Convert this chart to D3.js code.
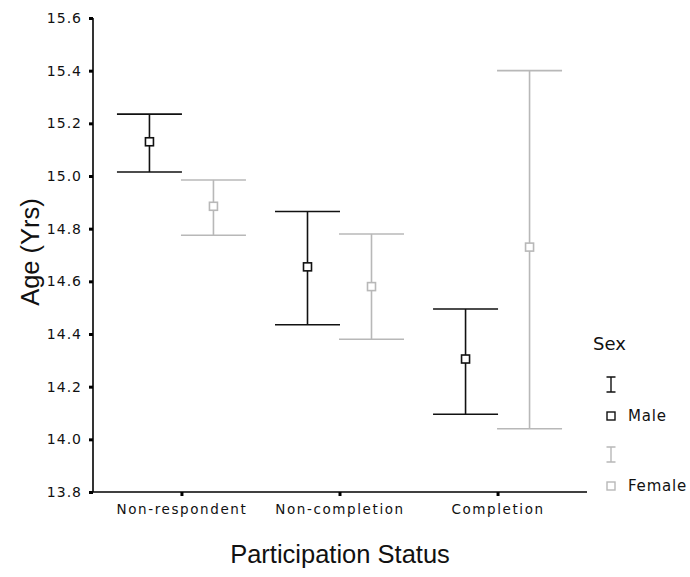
<!DOCTYPE html>
<html>
<head>
<meta charset="utf-8">
<script src="https://cdn.jsdelivr.net/npm/d3@7"></script>
<style>
  body { margin: 0; background: #fff; }
  #chart { width: 690px; height: 577px; }
</style>
</head>
<body>
<div id="chart"></div>
<script>
// values
var categories = ["Non-respondent", "Non-completion", "Completion"];
var sexes = ["Male", "Female"];
var maleMean = [15.13, 14.655, 14.305];
var maleLow = [15.015, 14.435, 14.095];
var maleHigh = [15.235, 14.865, 14.495];
var femaleMean = [14.885, 14.58, 14.73];
var femaleLow = [14.775, 14.38, 14.04];
var femaleHigh = [14.985, 14.78, 15.40];
var yTicks = [13.8, 14.0, 14.2, 14.4, 14.6, 14.8, 15.0, 15.2, 15.4, 15.6];

var colors = { Male: "#111", Female: "#b8b8b8" };

var w = 690, h = 577;
var svg = d3.select("#chart").append("svg").attr("width", w).attr("height", h);

var x = d3.scalePoint()
    .domain(categories)
    .range([92, 587])
    .padding(0.566);

var xSub = d3.scalePoint()
    .domain(sexes)
    .range([-32, 32]);

var y = d3.scaleLinear()
    .domain([13.8, 15.6])
    .range([492, 18]);

var rows = [];
categories.forEach(function(c, i) {
  rows.push({cat: c, sex: "Male", mean: maleMean[i], lo: maleLow[i], hi: maleHigh[i]});
  rows.push({cat: c, sex: "Female", mean: femaleMean[i], lo: femaleLow[i], hi: femaleHigh[i]});
});

// axes
var yAxis = svg.append("g")
    .attr("transform", "translate(93,0)")
    .call(d3.axisLeft(y).tickValues(yTicks).tickFormat(d3.format(".1f")).tickSizeInner(4).tickSizeOuter(0).tickPadding(7));

var xAxis = svg.append("g")
    .attr("transform", "translate(0,492)")
    .call(d3.axisBottom(x).tickSizeInner(4).tickSizeOuter(0).tickPadding(8));

[yAxis, xAxis].forEach(function(a) {
  a.select(".domain").attr("stroke", "#000").attr("stroke-width", 1.6);
  a.selectAll(".tick line").attr("stroke", "#000").attr("stroke-width", 3);
});
xAxis.select(".domain").attr("d", "M92,0H587");
yAxis.select(".domain").attr("d", "M0,18V492");

yAxis.selectAll(".tick text")
    .attr("font-family", "DejaVu Sans")
    .attr("font-size", "14px")
    .attr("letter-spacing", "1px")
    .attr("fill", "#111");
xAxis.selectAll(".tick text")
    .attr("font-family", "DejaVu Sans")
    .attr("font-size", "13.5px")
    .attr("letter-spacing", "1.6px")
    .attr("fill", "#111");

// error bars
var cap = 32.5;
var bars = svg.selectAll(".bar")
    .data(rows)
    .enter().append("g")
    .attr("class", "bar")
    .attr("stroke", function(d) { return colors[d.sex]; })
    .attr("stroke-width", 1.6)
    .attr("fill", "none");

bars.append("line")
    .attr("x1", function(d) { return x(d.cat) + xSub(d.sex); })
    .attr("x2", function(d) { return x(d.cat) + xSub(d.sex); })
    .attr("y1", function(d) { return y(d.hi); })
    .attr("y2", function(d) { return y(d.lo); });
bars.append("line")
    .attr("x1", function(d) { return x(d.cat) + xSub(d.sex) - cap; })
    .attr("x2", function(d) { return x(d.cat) + xSub(d.sex) + cap; })
    .attr("y1", function(d) { return y(d.hi); })
    .attr("y2", function(d) { return y(d.hi); });
bars.append("line")
    .attr("x1", function(d) { return x(d.cat) + xSub(d.sex) - cap; })
    .attr("x2", function(d) { return x(d.cat) + xSub(d.sex) + cap; })
    .attr("y1", function(d) { return y(d.lo); })
    .attr("y2", function(d) { return y(d.lo); });
bars.append("rect")
    .attr("x", function(d) { return x(d.cat) + xSub(d.sex) - 4; })
    .attr("y", function(d) { return y(d.mean) - 4; })
    .attr("width", 8)
    .attr("height", 8)
    .attr("fill", "#fff");

// axis titles
svg.append("text")
    .attr("transform", "translate(39,252) rotate(-90)")
    .attr("text-anchor", "middle")
    .attr("font-family", "Liberation Sans")
    .attr("font-size", "25.5px")
    .attr("fill", "#111")
    .text("Age (Yrs)");

svg.append("text")
    .attr("x", 340)
    .attr("y", 563)
    .attr("text-anchor", "middle")
    .attr("font-family", "Liberation Sans")
    .attr("font-size", "25.5px")
    .attr("fill", "#111")
    .text("Participation Status");

// legend
var legend = svg.append("g").attr("font-family", "DejaVu Sans").attr("fill", "#111");
legend.append("text")
    .attr("x", 593).attr("y", 350)
    .attr("font-size", "18px")
    .text("Sex");

var item = legend.selectAll(".item")
    .data(sexes)
    .enter().append("g")
    .attr("class", "item")
    .attr("transform", function(d, i) { return "translate(611," + (377 + i * 70) + ")"; });

item.append("path")
    .attr("d", "M-4.5,0H4.5M0,0V15M-4.5,15H4.5")
    .attr("stroke", function(d) { return colors[d]; })
    .attr("stroke-width", 1.4)
    .attr("fill", "none");
item.append("rect")
    .attr("x", -4).attr("y", 35)
    .attr("width", 8).attr("height", 8)
    .attr("fill", "#fff")
    .attr("stroke", function(d) { return colors[d]; })
    .attr("stroke-width", 1.4);
item.append("text")
    .attr("x", 17).attr("y", 39)
    .attr("dy", "0.35em")
    .attr("font-size", "15px")
    .attr("letter-spacing", "0.8px")
    .text(function(d) { return d; });
</script>
</body>
</html>
